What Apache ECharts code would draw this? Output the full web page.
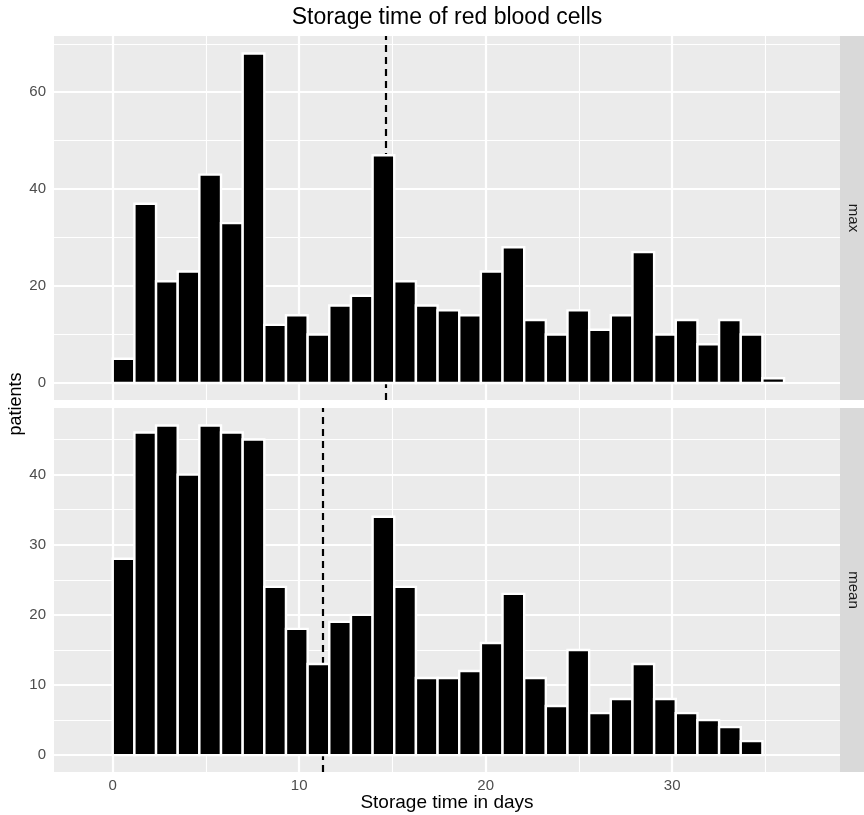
<!DOCTYPE html>
<html>
<head>
<meta charset="utf-8">
<script src="https://cdn.jsdelivr.net/npm/echarts@6/dist/echarts.min.js"></script>
<style>
html,body{margin:0;padding:0;background:#fff;}
#chart{width:864px;height:815px;}
</style>
</head>
<body>
<div id="chart"></div>
<script>
// ---- data ----
const BIN_START = 0;
const BIN_WIDTH = 36 / 31;
const countsMax  = [5, 37, 21, 23, 43, 33, 68, 12, 14, 10, 16, 18, 47, 21, 16, 15, 14, 23, 28, 13, 10, 15, 11, 14, 27, 10, 13, 8, 13, 10, 1];
const countsMean = [28, 46, 47, 40, 47, 46, 45, 24, 18, 13, 19, 20, 34, 24, 11, 11, 12, 16, 23, 11, 7, 15, 6, 8, 13, 8, 6, 5, 4, 2, 0];
const facetLabels = ['max', 'mean'];
const refLineMax = 14.64;
const refLineMean = 11.28;
const xTicks = [0, 10, 20, 30];
const xMinorTicks = [5, 15, 25, 35];
const yTicksMax = [0, 20, 40, 60];
const yMinorMax = [10, 30, 50, 70];
const yTicksMean = [0, 10, 20, 30, 40];
const yMinorMean = [5, 15, 25, 35, 45];
const titleText = 'Storage time of red blood cells';
const xTitle = 'Storage time in days';
const yTitle = 'patients';

// ---- layout / style ----
const FONT = '"Liberation Sans", Arial, sans-serif';
const PANEL_L = 54, PANEL_R = 840;
const P1_T = 36, P1_B = 400, P2_T = 408, P2_B = 772;

function bins(counts) {
  const out = [];
  counts.forEach((c, i) => {
    if (c > 0) out.push([BIN_START + i * BIN_WIDTH, BIN_START + (i + 1) * BIN_WIDTH, c]);
  });
  return out;
}

function renderBar(params, api) {
  const x0 = api.value(0), x1 = api.value(1), v = api.value(2);
  const p0 = api.coord([x0, v]);
  const p1 = api.coord([x1, 0]);
  return {
    type: 'rect',
    shape: { x: p0[0], y: p0[1], width: p1[0] - p0[0], height: p1[1] - p0[1] },
    style: { fill: '#000000', stroke: '#ffffff', lineWidth: 2.4 }
  };
}

function gridLines(xMaj, xMin, yMaj, yMin) {
  const d = [];
  xMin.forEach(v => d.push({ xAxis: v, lineStyle: { color: '#ffffff', width: 1.1, type: 'solid' } }));
  yMin.forEach(v => d.push({ yAxis: v, lineStyle: { color: '#ffffff', width: 1.1, type: 'solid' } }));
  xMaj.forEach(v => d.push({ xAxis: v, lineStyle: { color: '#ffffff', width: 2.2, type: 'solid' } }));
  yMaj.forEach(v => d.push({ yAxis: v, lineStyle: { color: '#ffffff', width: 2.2, type: 'solid' } }));
  return d;
}

const axisLabelStyle = { color: '#4D4D4D', fontSize: 15, fontFamily: FONT };
const tickStyle = { color: '#333333', width: 1.6 };

function xAxisDef(idx, showLabels) {
  return {
    type: 'value', gridIndex: idx, min: -3.15, max: 39.0,
    axisLine: { show: false },
    splitLine: { show: false },
    axisTick: { show: showLabels, length: 4, lineStyle: tickStyle, customValues: xTicks },
    axisLabel: { show: showLabels, margin: 6, customValues: xTicks, ...axisLabelStyle }
  };
}
function yAxisDef(idx, min, max, ticks) {
  return {
    type: 'value', gridIndex: idx, min: min, max: max,
    axisLine: { show: false },
    splitLine: { show: false },
    axisTick: { show: true, length: 4, lineStyle: tickStyle, customValues: ticks },
    axisLabel: { show: true, margin: 8, customValues: ticks, ...axisLabelStyle }
  };
}

const chart = echarts.init(document.getElementById('chart'), null, { renderer: 'canvas' });

const option = {
  animation: false,
  backgroundColor: '#ffffff',
  grid: [
    { left: PANEL_L, top: P1_T, width: PANEL_R - PANEL_L, height: P1_B - P1_T, show: true, backgroundColor: '#EBEBEB', borderWidth: 0 },
    { left: PANEL_L, top: P2_T, width: PANEL_R - PANEL_L, height: P2_B - P2_T, show: true, backgroundColor: '#EBEBEB', borderWidth: 0 }
  ],
  xAxis: [xAxisDef(0, false), xAxisDef(1, true)],
  yAxis: [yAxisDef(0, -3.5, 71.6, yTicksMax), yAxisDef(1, -2.4, 49.5, yTicksMean)],
  series: [
    {
      type: 'line', xAxisIndex: 0, yAxisIndex: 0, data: [], z: 1, silent: true,
      markLine: { silent: true, z: 1, symbol: ['none', 'none'], label: { show: false }, animation: false,
        data: gridLines(xTicks, xMinorTicks, yTicksMax, yMinorMax) }
    },
    {
      type: 'line', xAxisIndex: 1, yAxisIndex: 1, data: [], z: 1, silent: true,
      markLine: { silent: true, z: 1, symbol: ['none', 'none'], label: { show: false }, animation: false,
        data: gridLines(xTicks, xMinorTicks, yTicksMean, yMinorMean) }
    },
    {
      type: 'line', xAxisIndex: 0, yAxisIndex: 0, data: [], z: 2, silent: true,
      markLine: { silent: true, z: 2, symbol: ['none', 'none'], label: { show: false }, animation: false,
        lineStyle: { color: '#000000', width: 2.2, type: [7, 5] },
        data: [{ xAxis: refLineMax }] }
    },
    {
      type: 'line', xAxisIndex: 1, yAxisIndex: 1, data: [], z: 2, silent: true,
      markLine: { silent: true, z: 2, symbol: ['none', 'none'], label: { show: false }, animation: false,
        lineStyle: { color: '#000000', width: 2.2, type: [7, 5] },
        data: [{ xAxis: refLineMean }] }
    },
    {
      type: 'custom', name: facetLabels[0], xAxisIndex: 0, yAxisIndex: 0, z: 5,
      renderItem: renderBar, encode: { x: [0, 1], y: 2 }, data: bins(countsMax)
    },
    {
      type: 'custom', name: facetLabels[1], xAxisIndex: 1, yAxisIndex: 1, z: 5,
      renderItem: renderBar, encode: { x: [0, 1], y: 2 }, data: bins(countsMean)
    }
  ],
  graphic: [
    { type: 'rect', shape: { x: PANEL_R, y: P1_T, width: 24, height: P1_B - P1_T }, style: { fill: '#D9D9D9' }, silent: true },
    { type: 'rect', shape: { x: PANEL_R, y: P2_T, width: 24, height: P2_B - P2_T }, style: { fill: '#D9D9D9' }, silent: true },
    { type: 'text', x: 853, y: (P1_T + P1_B) / 2, rotation: -Math.PI / 2,
      style: { text: facetLabels[0], fontSize: 15, fontFamily: FONT, fill: '#1A1A1A', align: 'center', verticalAlign: 'middle' } },
    { type: 'text', x: 853, y: (P2_T + P2_B) / 2, rotation: -Math.PI / 2,
      style: { text: facetLabels[1], fontSize: 15, fontFamily: FONT, fill: '#1A1A1A', align: 'center', verticalAlign: 'middle' } },
    { type: 'text', x: 447, y: 18,
      style: { text: titleText, fontSize: 23, fontFamily: FONT, fill: '#000000', align: 'center', verticalAlign: 'middle' } },
    { type: 'text', x: 447, y: 803,
      style: { text: xTitle, fontSize: 19, fontFamily: FONT, fill: '#000000', align: 'center', verticalAlign: 'middle' } },
    { type: 'text', x: 16, y: (P1_T + P2_B) / 2, rotation: Math.PI / 2,
      style: { text: yTitle, fontSize: 18, fontFamily: FONT, fill: '#000000', align: 'center', verticalAlign: 'middle' } }
  ]
};
chart.setOption(option);
</script>
</body>
</html>
